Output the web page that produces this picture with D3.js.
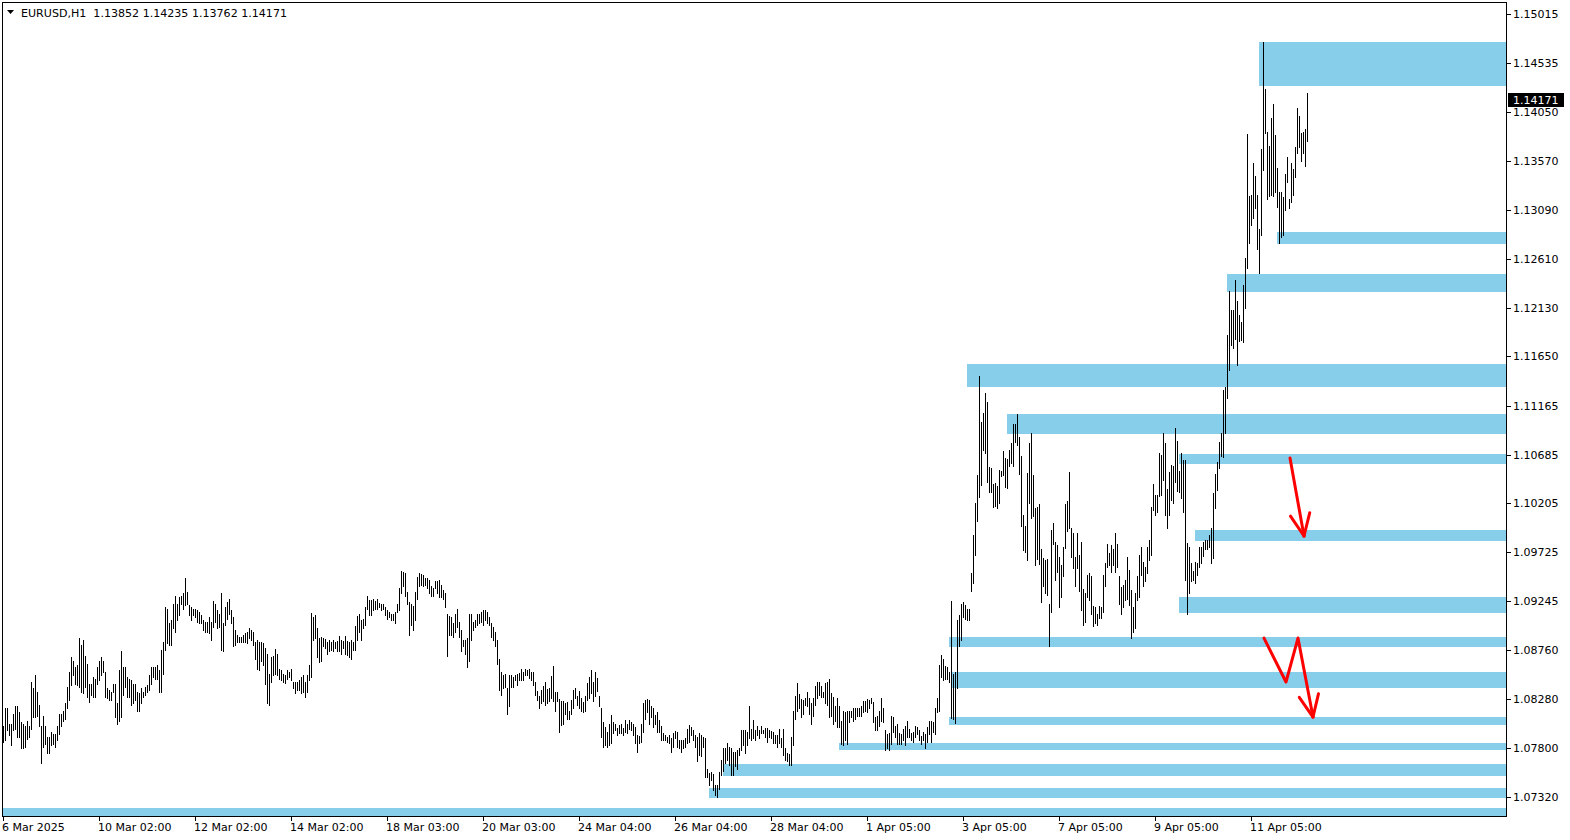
<!DOCTYPE html>
<html><head><meta charset="utf-8">
<script src="https://cdn.jsdelivr.net/npm/d3@7"></script>
<style>
html,body{margin:0;padding:0;background:#fff;overflow:hidden;}
svg{display:block;}
text{font-family:"DejaVu Sans",sans-serif;font-size:11px;fill:#000;}
</style></head><body>
<svg id="c" width="1570" height="840"></svg>
<script>
const symbol = "EURUSD,H1";
const lastBar = [1.13852, 1.14235, 1.13762, 1.14171]; // O H L C

const highs = [
1.0802,1.0819,1.0819,1.0804,1.0804,1.0814,1.0821,1.0821,1.0816,1.0806,
1.0804,1.0802,1.0807,1.0802,1.0845,1.0839,1.0852,1.0835,1.0822,1.0802,
1.0812,1.0802,1.0791,1.0791,1.0796,1.0794,1.0794,1.0802,1.0814,1.0814,
1.0817,1.0824,1.0840,1.0855,1.0870,1.0866,1.0860,1.0862,1.0888,1.0881,
1.0886,1.0871,1.0863,1.0843,1.0843,1.0850,1.0848,1.0860,1.0866,1.0870,
1.0866,1.0855,1.0839,1.0837,1.0835,1.0843,1.0843,1.0824,1.0857,1.0875,
1.0860,1.0860,1.0850,1.0848,1.0847,1.0843,1.0843,1.0835,1.0834,1.0839,
1.0835,1.0840,1.0842,1.0852,1.0860,1.0860,1.0860,1.0862,1.0857,1.0876,
1.0884,1.0919,1.0917,1.0903,1.0906,1.0922,1.0930,1.0922,1.0929,1.0930,
1.0932,1.0947,1.0933,1.0921,1.0919,1.0917,1.0917,1.0916,1.0914,1.0911,
1.0906,1.0904,1.0904,1.0909,1.0904,1.0925,1.0922,1.0916,1.0912,1.0932,
1.0903,1.0919,1.0924,1.0927,1.0916,1.0909,1.0896,1.0891,1.0889,1.0889,
1.0891,1.0893,1.0894,1.0898,1.0896,1.0894,
1.0884,1.0886,1.0884,1.0884,1.0883,1.0878,1.0873,1.0853,1.0870,1.0871,
1.0877,1.0873,1.0858,1.0857,1.0853,1.0852,1.0857,1.0855,1.0858,1.0845,
1.0845,1.0845,1.0847,1.0850,1.0852,1.0845,1.0852,1.0862,1.0913,1.0909,
1.0911,1.0898,1.0888,1.0889,1.0888,1.0887,1.0884,1.0886,1.0884,1.0886,
1.0884,1.0885,1.0890,1.0886,1.0885,1.0890,1.0885,1.0884,1.0886,1.0884,
1.0900,1.0910,1.0912,1.0906,1.0907,1.0919,1.0930,1.0926,1.0926,1.0927,
1.0925,1.0927,1.0923,1.0922,1.0922,1.0919,1.0916,1.0914,1.0912,1.0912,
1.0914,1.0922,1.0937,1.0954,1.0953,1.0952,1.0933,1.0924,1.0922,1.0920,
1.0933,1.0948,1.0952,1.0951,1.0950,1.0947,1.0947,1.0945,1.0939,1.0937,
1.0944,1.0944,1.0945,1.0940,1.0935,1.0932,1.0912,1.0910,1.0909,1.0903,
1.0912,1.0917,1.0904,1.0896,1.0886,1.0886,1.0888,1.0912,1.0912,1.0904,
1.0906,1.0912,1.0912,1.0914,1.0916,1.0916,1.0914,1.0909,1.0903,1.0899,
1.0894,1.0886,1.0868,1.0855,1.0852,1.0853,1.0839,1.0852,1.0852,1.0850,
1.0852,1.0853,
1.0854,1.0858,1.0855,1.0858,1.0857,1.0858,1.0855,1.0855,1.0845,1.0836,
1.0831,1.0837,1.0841,1.0845,1.0838,1.0839,1.0851,1.0861,1.0835,1.0835,
1.0828,1.0826,1.0826,1.0824,1.0825,1.0817,1.0827,1.0837,1.0839,1.0831,
1.0836,1.0829,1.0825,1.0831,1.0844,1.0850,1.0857,1.0845,1.0855,1.0849,
1.0831,1.0819,1.0806,1.0801,1.0796,1.0804,1.0813,1.0806,1.0804,1.0800,
1.0803,1.0804,1.0800,1.0808,1.0804,1.0808,1.0806,1.0804,1.0801,1.0793,
1.0792,1.0804,1.0824,1.0827,1.0828,1.0827,1.0821,1.0819,1.0813,1.0816,
1.0808,1.0802,1.0795,1.0793,1.0791,1.0793,1.0790,1.0795,1.0797,1.0796,
1.0788,1.0788,1.0788,1.0790,1.0799,1.0803,1.0801,1.0798,1.0793,1.0791,
1.0795,1.0793,1.0791,1.0790,1.0760,1.0756,1.0757,1.0755,1.0744,1.0744,
1.0757,1.0768,1.0780,1.0780,1.0785,1.0781,1.0780,1.0776,1.0776,1.0778,
1.0780,1.0798,1.0798,1.0798,1.0796,1.0821,1.0799,1.0808,1.0798,1.0802,
1.0798,1.0802,1.0798,1.0800,1.0800,1.0798,1.0797,1.0796,1.0793,1.0793,
1.0799,1.0790,1.0799,1.0780,1.0775,1.0774,1.0791,1.0817,1.0831,1.0844,
1.0833,
1.0828,1.0827,1.0829,1.0835,1.0829,1.0824,1.0829,1.0841,1.0845,1.0845,
1.0841,1.0835,1.0844,1.0845,1.0848,1.0834,1.0830,1.0821,1.0829,1.0821,
1.0807,1.0817,1.0816,1.0817,1.0817,1.0817,1.0819,1.0819,1.0819,1.0819,
1.0821,1.0826,1.0826,1.0828,1.0827,1.0829,1.0825,1.0811,1.0812,1.0817,
1.0829,1.0819,1.0798,1.0794,1.0795,1.0812,1.0811,1.0802,1.0804,1.0795,
1.0794,1.0799,1.0802,1.0807,1.0799,1.0795,1.0796,1.0802,1.0801,1.0798,
1.0792,1.0796,1.0794,1.0801,1.0807,1.0807,1.0806,1.0819,1.0829,1.0862,
1.0872,1.0868,1.0861,1.0860,1.0855,1.0925,1.0853,1.0855,1.0906,1.0911,
1.0922,1.0924,1.0921,1.0917,1.0917,1.0952,1.0989,1.1021,1.1048,1.1146,
1.1101,1.1109,1.1129,1.1120,1.1056,
1.1055,1.1040,1.1041,1.1038,1.1053,1.1052,1.1072,1.1065,1.1064,1.1073,
1.1080,1.1099,1.1099,1.1108,1.1086,1.1067,1.1009,1.0998,1.1050,1.1080,
1.1090,1.1048,1.1016,1.1017,1.1020,1.0976,1.0967,1.0965,1.0966,1.0922,
1.0994,1.1001,1.0983,1.0980,1.0968,1.0960,1.0978,1.1020,1.1023,1.1051,
1.0996,1.0991,1.0968,1.0991,1.0970,1.0983,1.0936,1.0932,1.0950,1.0952,
1.0949,1.0920,1.0919,1.0912,1.0920,1.0919,1.0950,1.0962,1.0981,1.0972,
1.0980,1.0976,1.0991,1.0981,1.0949,1.0938,1.0940,1.0945,1.0968,1.0955,
1.0935,1.0919,1.0932,1.0949,1.0970,1.0978,1.0963,1.0958,1.0978,1.0985,
1.1017,1.1040,1.1029,1.1029,1.1070,1.1068,1.1090,1.1080,1.1035,1.1051,
1.1058,1.1057,1.1095,1.1082,1.1052,1.1070,1.1063,1.1063,1.0982,1.0978,
1.0962,1.0954,1.0963,1.0962,1.0978,1.0978,1.0983,1.0985,1.0985,1.0989,
1.0996,1.1031,1.1049,1.1061,1.1081,1.1090,
1.1132,1.1135,1.1186,1.1229,1.1211,1.1211,1.1240,1.1219,1.1206,1.1199,
1.1235,1.1262,1.1384,1.1323,1.1324,1.1355,1.1342,1.1324,1.1290,1.1369,
1.1474,1.1428,1.1386,1.1372,1.1399,1.1413,1.1383,1.1350,1.1327,1.1327,
1.1322,1.1344,1.1361,1.1320,1.1355,1.1349,1.1371,1.1409,1.1401,1.1385,
1.1386,1.1388,1.14235
];

const lows = [
1.0786,1.0788,1.0798,1.0793,1.0783,1.0798,1.0799,1.0791,1.0791,1.0780,
1.0780,1.0781,1.0789,1.0791,1.0799,1.0811,1.0811,1.0812,1.0802,1.0765,
1.0781,1.0784,1.0775,1.0775,1.0783,1.0784,1.0781,1.0788,1.0794,1.0802,
1.0807,1.0809,1.0819,1.0827,1.0842,1.0852,1.0843,1.0842,1.0840,1.0835,
1.0834,1.0840,1.0830,1.0825,1.0832,1.0830,1.0830,1.0843,1.0847,1.0852,
1.0855,1.0830,1.0829,1.0827,1.0827,1.0835,1.0811,1.0804,1.0807,1.0811,
1.0832,1.0840,1.0830,1.0830,1.0822,1.0824,1.0827,1.0817,1.0817,1.0824,
1.0830,1.0832,1.0835,1.0837,1.0843,1.0850,1.0848,1.0848,1.0835,1.0835,
1.0853,1.0876,1.0883,1.0881,1.0881,1.0898,1.0894,1.0906,1.0911,1.0922,
1.0917,1.0921,1.0922,1.0911,1.0906,1.0911,1.0909,1.0904,1.0903,1.0903,
1.0896,1.0894,1.0894,1.0893,1.0886,1.0899,1.0904,1.0898,1.0899,1.0876,
1.0875,1.0901,1.0907,1.0912,1.0903,1.0880,1.0881,1.0884,1.0884,1.0884,
1.0884,1.0884,1.0883,1.0888,1.0886,1.0881,
1.0868,1.0858,1.0857,1.0866,1.0862,1.0843,1.0824,1.0822,1.0845,1.0852,
1.0853,1.0852,1.0848,1.0847,1.0845,1.0844,1.0848,1.0850,1.0847,1.0839,
1.0834,1.0837,1.0837,1.0834,1.0835,1.0830,1.0835,1.0847,1.0850,1.0886,
1.0888,1.0870,1.0865,1.0866,1.0880,1.0878,1.0873,1.0875,1.0876,1.0875,
1.0878,1.0875,1.0875,1.0873,1.0878,1.0873,1.0872,1.0870,1.0868,1.0876,
1.0876,1.0886,1.0894,1.0886,1.0898,1.0901,1.0917,1.0911,1.0911,1.0916,
1.0917,1.0917,1.0919,1.0916,1.0917,1.0911,1.0907,1.0909,1.0906,1.0906,
1.0903,1.0914,1.0916,1.0932,1.0939,1.0930,1.0922,1.0891,1.0901,1.0896,
1.0906,1.0927,1.0939,1.0940,1.0939,1.0940,1.0937,1.0932,1.0930,1.0930,
1.0937,1.0932,1.0929,1.0929,1.0927,1.0919,1.0871,1.0891,1.0891,1.0889,
1.0894,1.0899,1.0889,1.0875,1.0880,1.0873,1.0860,1.0866,1.0886,1.0896,
1.0899,1.0901,1.0903,1.0904,1.0901,1.0906,1.0903,1.0901,1.0889,1.0886,
1.0880,1.0863,1.0837,1.0832,1.0839,1.0840,1.0814,1.0821,1.0840,1.0840,
1.0847,1.0842,
1.0847,1.0847,1.0847,1.0852,1.0852,1.0849,1.0847,1.0842,1.0832,1.0827,
1.0819,1.0824,1.0826,1.0822,1.0824,1.0826,1.0829,1.0826,1.0817,1.0826,
1.0796,1.0803,1.0804,1.0814,1.0809,1.0809,1.0814,1.0819,1.0829,1.0822,
1.0819,1.0817,1.0816,1.0817,1.0827,1.0829,1.0834,1.0826,1.0831,1.0836,
1.0821,1.0791,1.0781,1.0783,1.0781,1.0783,1.0785,1.0795,1.0798,1.0793,
1.0795,1.0795,1.0793,1.0796,1.0795,1.0799,1.0798,1.0793,1.0785,1.0776,
1.0785,1.0786,1.0796,1.0809,1.0816,1.0804,1.0811,1.0801,1.0804,1.0796,
1.0796,1.0788,1.0788,1.0788,1.0786,1.0785,1.0776,1.0781,1.0790,1.0781,
1.0780,1.0776,1.0780,1.0781,1.0785,1.0786,1.0793,1.0788,1.0781,1.0767,
1.0773,1.0772,1.0781,1.0752,1.0752,1.0744,1.0749,1.0739,1.0734,1.0732,
1.0740,1.0754,1.0758,1.0765,1.0768,1.0763,1.0754,1.0754,1.0762,1.0760,
1.0773,1.0778,1.0783,1.0775,1.0783,1.0790,1.0788,1.0790,1.0788,1.0793,
1.0790,1.0795,1.0795,1.0791,1.0786,1.0791,1.0790,1.0785,1.0785,1.0781,
1.0785,1.0781,1.0773,1.0768,1.0767,1.0763,1.0763,1.0783,1.0809,1.0817,
1.0819,
1.0811,1.0814,1.0822,1.0821,1.0814,1.0804,1.0812,1.0822,1.0829,1.0832,
1.0830,1.0830,1.0824,1.0822,1.0811,1.0812,1.0804,1.0807,1.0801,1.0801,
1.0784,1.0783,1.0788,1.0784,1.0806,1.0811,1.0807,1.0809,1.0812,1.0812,
1.0812,1.0816,1.0817,1.0816,1.0819,1.0824,1.0806,1.0798,1.0798,1.0802,
1.0807,1.0806,1.0778,1.0780,1.0778,1.0784,1.0796,1.0791,1.0784,1.0784,
1.0784,1.0788,1.0783,1.0791,1.0791,1.0788,1.0786,1.0791,1.0794,1.0788,
1.0784,1.0788,1.0780,1.0786,1.0794,1.0786,1.0796,1.0794,1.0816,1.0817,
1.0850,1.0847,1.0848,1.0848,1.0845,1.0810,1.0809,1.0805,1.0839,1.0880,
1.0886,1.0909,1.0907,1.0906,1.0906,1.0934,1.0942,1.0970,1.1003,1.1027,
1.1039,1.1073,1.1070,1.1042,1.1032,
1.1032,1.1017,1.1018,1.1016,1.1021,1.1047,1.1048,1.1037,1.1036,1.1057,
1.1060,1.1057,1.1081,1.1078,1.1049,1.0998,1.0975,1.0973,1.0965,1.1021,
1.1006,1.1008,1.0960,1.0966,1.0961,1.0924,1.0939,1.0932,1.0931,1.0880,
1.0914,1.0981,1.0945,1.0953,1.0919,1.0929,1.0949,1.0977,1.0993,1.0996,
1.0968,1.0957,1.0939,1.0957,1.0934,1.0916,1.0901,1.0904,1.0929,1.0926,
1.0912,1.0900,1.0903,1.0901,1.0908,1.0908,1.0914,1.0939,1.0958,1.0960,
1.0953,1.0960,1.0953,1.0958,1.0922,1.0912,1.0919,1.0926,1.0927,1.0921,
1.0888,1.0894,1.0898,1.0926,1.0929,1.0950,1.0939,1.0944,1.0952,1.0965,
1.0970,1.1014,1.1009,1.1012,1.1028,1.1029,1.1044,1.1009,1.0996,1.1009,
1.1024,1.1021,1.1042,1.1033,1.1032,1.1026,1.1012,1.0945,1.0912,1.0932,
1.0944,1.0945,1.0942,1.0950,1.0958,1.0962,1.0969,1.0976,1.0976,1.0978,
1.0962,1.0967,1.1016,1.1034,1.1055,1.1067,
1.1066,1.1090,1.1124,1.1152,1.1176,1.1173,1.1182,1.1157,1.1180,1.1181,
1.1179,1.1213,1.1252,1.1276,1.1294,1.1301,1.1311,1.1271,1.1247,1.1284,
1.1348,1.1385,1.1320,1.1323,1.1324,1.1323,1.1327,1.1312,1.1276,1.1282,
1.1284,1.1309,1.1336,1.1311,1.1317,1.1324,1.1341,1.1365,1.1371,1.1357,
1.1365,1.1352,1.13762
];

const priceTicks = [1.15015,1.14535,1.14050,1.13570,1.13090,1.12610,1.12130,1.11650,
  1.11165,1.10685,1.10205,1.09725,1.09245,1.08760,1.08280,1.07800,1.07320];
const timeLabels = ["6 Mar 2025","10 Mar 02:00","12 Mar 02:00","14 Mar 02:00","18 Mar 03:00",
  "20 Mar 03:00","24 Mar 04:00","26 Mar 04:00","28 Mar 04:00","1 Apr 05:00","3 Apr 05:00",
  "7 Apr 05:00","9 Apr 05:00","11 Apr 05:00"];
const timeLabelBars = [0,48,96,144,192,240,288,336,384,432,480,528,576,624];

// supply / demand zones: start bar, upper price, lower price
const zoneStart = [628,637,612,482,502,588,596,588,473,474,473,418,360,353,0];
const zoneHigh  = [1.14740,1.12872,1.12460,1.11575,1.11084,1.10691,1.09944,1.09285,1.08892,1.08548,1.08106,1.07850,1.07644,1.07408,1.07212];
const zoneLow   = [1.14307,1.12755,1.12283,1.11349,1.10887,1.10592,1.09836,1.09128,1.08794,1.08391,1.08027,1.07782,1.07526,1.07310,1.07133];

// hand-drawn red arrows: [bar, price] points
const arrowOneBars = [643.5, 650.5];
const arrowOnePrices = [1.10651, 1.09885];
const arrowTwoBars = [630.5, 641.5, 647.5, 655];
const arrowTwoPrices = [1.08882, 1.08450, 1.08882, 1.08106];

const svg = d3.select("#c");
const L = 2, R = 1506, T = 2, B = 816;
const n = highs.length;
const x = d3.scaleLinear().domain([0, n - 1]).range([3, 3 + 2 * (n - 1)]);
const y = d3.scaleLinear().domain([1.07320, 1.15015]).range([797, 14]);

svg.append("defs").append("clipPath").attr("id","plot")
  .append("rect").attr("x",L).attr("y",T).attr("width",R-L).attr("height",B-T);

const plot = svg.append("g").attr("clip-path","url(#plot)");

// zones
plot.append("g").selectAll("rect").data(zoneStart).join("rect")
  .attr("x", d => x(d))
  .attr("width", d => R - x(d))
  .attr("y", (d,i) => y(zoneHigh[i]))
  .attr("height", (d,i) => y(zoneLow[i]) - y(zoneHigh[i]))
  .attr("fill", "#87CEEB")
  .attr("shape-rendering","crispEdges");

// bars
plot.append("g").selectAll("rect").data(highs).join("rect")
  .attr("x", (d,i) => x(i))
  .attr("width", 1)
  .attr("y", d => Math.round(y(d)))
  .attr("height", (d,i) => Math.max(1, Math.round(y(lows[i])) - Math.round(y(d)) + 1))
  .attr("fill", "#000")
  .attr("shape-rendering","crispEdges");

// arrows
function drawArrow(bars, prices) {
  const pts = bars.map((b,i) => [x(b), y(prices[i])]);
  const g = svg.append("g");
  g.append("path").attr("d", d3.line()(pts))
    .attr("fill","none").attr("stroke","#FF0000").attr("stroke-width",3)
    .attr("stroke-linejoin","round").attr("stroke-linecap","round");
  const p1 = pts[pts.length-2], p2 = pts[pts.length-1];
  const ang = Math.atan2(p2[1]-p1[1], p2[0]-p1[0]);
  const len = 24, spread = 0.42;
  [ang + Math.PI - spread, ang + Math.PI + spread].forEach(a => {
    g.append("line").attr("x1",p2[0]).attr("y1",p2[1])
      .attr("x2",p2[0] + len*Math.cos(a)).attr("y2",p2[1] + len*Math.sin(a))
      .attr("stroke","#FF0000").attr("stroke-width",3).attr("stroke-linecap","round");
  });
}
drawArrow(arrowOneBars, arrowOnePrices);
drawArrow(arrowTwoBars, arrowTwoPrices);

// frame
const frame = svg.append("g").attr("shape-rendering","crispEdges");
frame.append("line").attr("x1",L+0.5).attr("x2",L+0.5).attr("y1",T).attr("y2",B+1).attr("stroke","#000");
frame.append("line").attr("x1",L).attr("x2",R+1).attr("y1",T+0.5).attr("y2",T+0.5).attr("stroke","#000");
frame.append("line").attr("x1",R+0.5).attr("x2",R+0.5).attr("y1",T).attr("y2",B+1).attr("stroke","#000");
frame.append("line").attr("x1",L).attr("x2",R+1).attr("y1",B+0.5).attr("y2",B+0.5).attr("stroke","#000");

// price axis
const pa = svg.append("g");
pa.selectAll("line").data(priceTicks).join("line")
  .attr("x1",R+1).attr("x2",R+5)
  .attr("y1",d=>Math.round(y(d))+0.5).attr("y2",d=>Math.round(y(d))+0.5)
  .attr("stroke","#000").attr("shape-rendering","crispEdges");
pa.selectAll("text").data(priceTicks).join("text")
  .attr("x",1513).attr("y",d=>y(d)+4)
  .text(d=>d.toFixed(5));

// current price label
const cy = y(lastBar[3]);
svg.append("rect").attr("x",1508).attr("y",Math.round(cy)-7).attr("width",56).attr("height",14)
  .attr("fill","#000").attr("shape-rendering","crispEdges");
svg.append("text").attr("x",1513).attr("y",cy+4).attr("fill","#fff").style("fill","#fff")
  .text(lastBar[3].toFixed(5));

// time axis
const ta = svg.append("g");
ta.selectAll("line").data(timeLabelBars).join("line")
  .attr("x1",d=>x(d)+0.5).attr("x2",d=>x(d)+0.5).attr("y1",B+1).attr("y2",B+5)
  .attr("stroke","#000").attr("shape-rendering","crispEdges");
ta.selectAll("text").data(timeLabels).join("text")
  .attr("x",(d,i)=>x(timeLabelBars[i]) - 1).attr("y",831)
  .text(d=>d);

// header
svg.append("path").attr("d","M7,10 L14,10 L10.5,14 Z").attr("fill","#000");
svg.append("text").attr("x",21).attr("y",17)
  .attr("textLength",266).attr("lengthAdjust","spacingAndGlyphs")
  .text(symbol + "\u00a0\u00a0" + lastBar.map(v=>v.toFixed(5)).join(" "));
</script>
</body></html>
